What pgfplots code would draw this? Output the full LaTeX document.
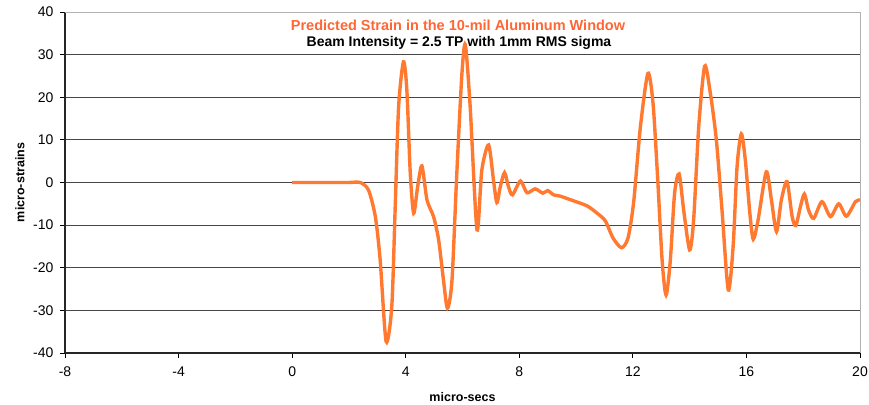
\documentclass[border=0pt]{standalone}
\usepackage{pgfplots}
\pgfplotsset{compat=1.18}
\usepackage{fontspec}
\setmainfont{Liberation Sans}
\definecolor{lineor}{RGB}{255,122,48}
\definecolor{titleor}{RGB}{255,102,51}
\definecolor{gridc}{RGB}{70,70,70}
\begin{document}
\begin{tikzpicture}
\begin{axis}[
  scale only axis,
  width=795pt, height=341pt,
  xmin=-8, xmax=20, ymin=-40, ymax=40,
  xtick={-8,-4,0,4,8,12,16,20},
  ytick={-40,-30,...,40},
  axis lines=left,
  axis line style={-, line width=1.2pt, draw=black!85},
  tick align=outside,
  major tick length=5pt,
  tick style={line width=0.8pt, black},
  ymajorgrids,
  major grid style={line width=0.8pt, gridc},
  /pgf/number format/assume math mode=true,
  ticklabel style={font=\fontsize{14}{16}\selectfont},
  xticklabel style={yshift=-5pt},
  yticklabel style={xshift=-3pt},
  xlabel={micro-secs},
  ylabel={micro-strains},
  every axis x label/.style={at={(axis description cs:0.5,0)}, anchor=center, yshift=-44pt, font=\fontsize{12.5}{14}\selectfont\bfseries},
  every axis y label/.style={at={(axis description cs:0,0.5)}, anchor=center, rotate=90, yshift=45pt, font=\fontsize{12.5}{14}\selectfont\bfseries},
  clip=false,
]
\draw[gray!60, line width=1pt] (rel axis cs:0,1) -- (rel axis cs:1,1) -- (rel axis cs:1,0);
\addplot[lineor, line width=3.4pt, smooth, tension=0.45] coordinates {
(0,0) (0.5,0) (1,0) (1.5,0) (2,0) (2.4,0) (2.69,-1.8) (2.93,-8) (3.10,-18.2) (3.31,-37.3) (3.51,-29) (3.63,-5.7) (3.75,17.8) (3.92,28.3) (4.04,21.7) (4.16,2.2) (4.28,-7.2) (4.42,-1) (4.57,3.9) (4.75,-4.1) (4.98,-8) (5.16,-13.5) (5.33,-22.9) (5.47,-29.5) (5.63,-22.9) (5.80,2.2) (5.98,25.6) (6.10,32.3) (6.27,17.8) (6.51,-11.1) (6.68,2.9) (6.92,8.8) (7.09,0.6) (7.21,-4.7) (7.33,-1) (7.48,2.3) (7.62,-1) (7.76,-2.9) (8.04,0.35) (8.27,-2.4) (8.56,-1.5) (8.83,-2.5) (9.0,-1.9) (9.21,-2.9) (9.44,-3.2) (9.91,-4.3) (10.39,-5.5) (10.74,-7.2) (11.03,-9) (11.3,-13) (11.6,-15.3) (11.83,-13) (12.03,-4.5) (12.26,12.7) (12.53,25.6) (12.71,18.6) (12.87,1.4) (13.03,-18.2) (13.17,-26.4) (13.32,-18.2) (13.47,-2.5) (13.63,2.0) (13.79,-6.5) (14.0,-15.8) (14.14,-8.8) (14.32,13.1) (14.53,27.3) (14.73,20.9) (14.94,10) (15.14,-6.5) (15.36,-25.2) (15.53,-15.1) (15.67,3.7) (15.82,11.4) (15.96,5.3) (16.12,-7.2) (16.24,-13.3) (16.41,-8.8) (16.70,2.5) (16.88,-4.1) (17.06,-11.5) (17.23,-4.1) (17.43,0.2) (17.61,-8) (17.74,-10.1) (17.90,-5.7) (18.04,-2.7) (18.19,-6.5) (18.37,-8.4) (18.66,-4.5) (18.96,-8) (19.25,-5) (19.52,-7.9) (19.84,-4.5) (20,-4.1)
};
\node[font=\fontsize{14.5}{16}\selectfont\bfseries, text=titleor, anchor=center] at (393pt,328pt) {Predicted Strain in the 10-mil Aluminum Window};
\node[font=\fontsize{14}{16}\selectfont\bfseries, anchor=center] at (394pt,310pt) {Beam Intensity = 2.5 TP with 1mm RMS sigma};
\end{axis}
\pgfresetboundingbox
\path (-65pt,-51pt) rectangle (804pt,353pt);
\end{tikzpicture}
\end{document}
